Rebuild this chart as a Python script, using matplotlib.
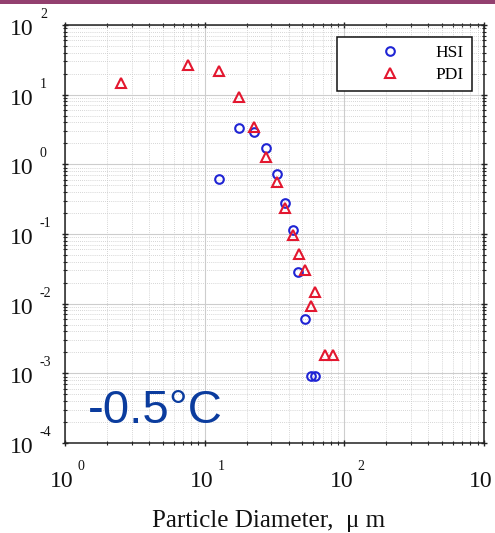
import matplotlib
matplotlib.use("Agg")
import matplotlib.pyplot as plt
import numpy as np
from matplotlib.patches import Rectangle
from matplotlib.ticker import LogLocator, NullFormatter


# ============================================================
# DATA
# ============================================================

HSI_DIAMETER = [17.5, 22.5, 27.5, 12.6, 32.8, 37.6, 42.7, 46.8, 52.2, 57.7, 61.5]
HSI_VALUE = [3.36, 2.94, 1.70, 0.611, 0.728, 0.277, 0.115, 0.0289, 0.00605,
             0.00092, 0.00092]

PDI_DIAMETER = [2.50, 7.59, 12.7, 17.6, 22.5, 27.5, 32.8, 37.6, 42.7, 47.1,
                52.5, 61.9, 57.7, 72.6, 83.3]
PDI_VALUE = [14.6, 26.7, 21.9, 9.36, 3.47, 1.29, 0.565, 0.234, 0.0970, 0.0518,
             0.0305, 0.0149, 0.0093, 0.00184, 0.00184]

X_DECADES = [0, 1, 2, 3]
Y_DECADES = [-4, -3, -2, -1, 0, 1, 2]

TEMPERATURE_LABEL = "-0.5°C"


# ============================================================
# STYLE
# ============================================================

plt.rcParams["font.family"] = ["Liberation Serif", "DejaVu Serif"]

BLUE = "#1f24d4"
RED = "#e3172f"
TEXT_BLUE = "#0b3c9e"
INK = "#111111"

BASE_SIZE = 17
EXP_SIZE = 10

fig = plt.figure(figsize=(4.95, 5.33), dpi=100)
ax = fig.add_axes([0.1313, 0.1689, 0.8465, 0.7842])

# thin banner strip along the top edge
fig.patches.append(
    Rectangle((0, 0.993), 1, 0.007, transform=fig.transFigure,
              facecolor="#93406f", edgecolor="none")
)

ax.plot(HSI_DIAMETER, HSI_VALUE, linestyle="none", marker="o",
        markersize=6.2, markerfacecolor="none", markeredgecolor=BLUE,
        markeredgewidth=1.5, label="HSI", zorder=3)
ax.plot(PDI_DIAMETER, PDI_VALUE, linestyle="none", marker="^",
        markersize=7.2, markerfacecolor="none", markeredgecolor=RED,
        markeredgewidth=1.5, label="PDI", zorder=3)

ax.set_xscale("log")
ax.set_yscale("log")
ax.set_xlim(10.0 ** X_DECADES[0], 10.0 ** X_DECADES[-1])
ax.set_ylim(10.0 ** Y_DECADES[0], 10.0 ** Y_DECADES[-1])

ax.xaxis.set_major_locator(LogLocator(base=10, numticks=10))
ax.yaxis.set_major_locator(LogLocator(base=10, numticks=10))
ax.xaxis.set_minor_locator(LogLocator(base=10, subs=range(2, 10), numticks=20))
ax.yaxis.set_minor_locator(LogLocator(base=10, subs=range(2, 10), numticks=20))
ax.xaxis.set_minor_formatter(NullFormatter())
ax.yaxis.set_minor_formatter(NullFormatter())

ax.grid(which="major", color="#cdcdcd", linewidth=0.8, linestyle="-")
ax.grid(which="minor", color="#c8c8c8", linewidth=0.6, linestyle=(0, (1, 1.5)))
ax.set_axisbelow(True)

ax.tick_params(which="both", direction="inout", top=True, right=True,
               colors="#222222", labelbottom=False, labelleft=False)
ax.tick_params(which="major", length=4.5, width=1.0)
ax.tick_params(which="minor", length=2.5, width=0.8)

for spine in ax.spines.values():
    spine.set_linewidth(1.1)
    spine.set_color("#222222")

# power-of-ten labels: "10" and a raised hyphen exponent set apart
for d in X_DECADES:
    ax.annotate("10", xy=(10.0 ** d, 0), xycoords=("data", "axes fraction"),
                xytext=(-3, -44), textcoords="offset pixels",
                ha="center", va="baseline", fontsize=BASE_SIZE, color=INK,
                annotation_clip=False)
    ax.annotate(str(d), xy=(10.0 ** d, 0), xycoords=("data", "axes fraction"),
                xytext=(13, -27), textcoords="offset pixels",
                ha="left", va="baseline", fontsize=EXP_SIZE, color=INK,
                annotation_clip=False)

for d in Y_DECADES:
    ax.annotate("10", xy=(0, 10.0 ** d), xycoords=("axes fraction", "data"),
                xytext=(-31, -10), textcoords="offset pixels",
                ha="right", va="baseline", fontsize=BASE_SIZE, color=INK,
                annotation_clip=False)
    ax.annotate(str(d), xy=(0, 10.0 ** d), xycoords=("axes fraction", "data"),
                xytext=(-25, 7), textcoords="offset pixels",
                ha="left", va="baseline", fontsize=EXP_SIZE, color=INK,
                annotation_clip=False)

ax.set_xlabel("Particle Diameter,  μ m", fontsize=18, color=INK)
ax.xaxis.set_label_coords(0.4857, -0.201)
ax.xaxis.label.set_va("baseline")

ax.text(0.055, 0.048, TEMPERATURE_LABEL, transform=ax.transAxes,
        fontsize=34, color=TEXT_BLUE, ha="left", va="baseline",
        family=["Liberation Sans", "DejaVu Sans"], zorder=4)

legend = ax.legend(loc="upper right", bbox_to_anchor=(0.971, 0.971),
                   borderaxespad=0, fontsize=12.5, handlelength=5.2,
                   handletextpad=0.05, borderpad=0.45, labelspacing=0.35,
                   fancybox=False, framealpha=1, edgecolor=INK)
legend.get_frame().set_linewidth(1.1)

fig.savefig("out.png", dpi=100)
